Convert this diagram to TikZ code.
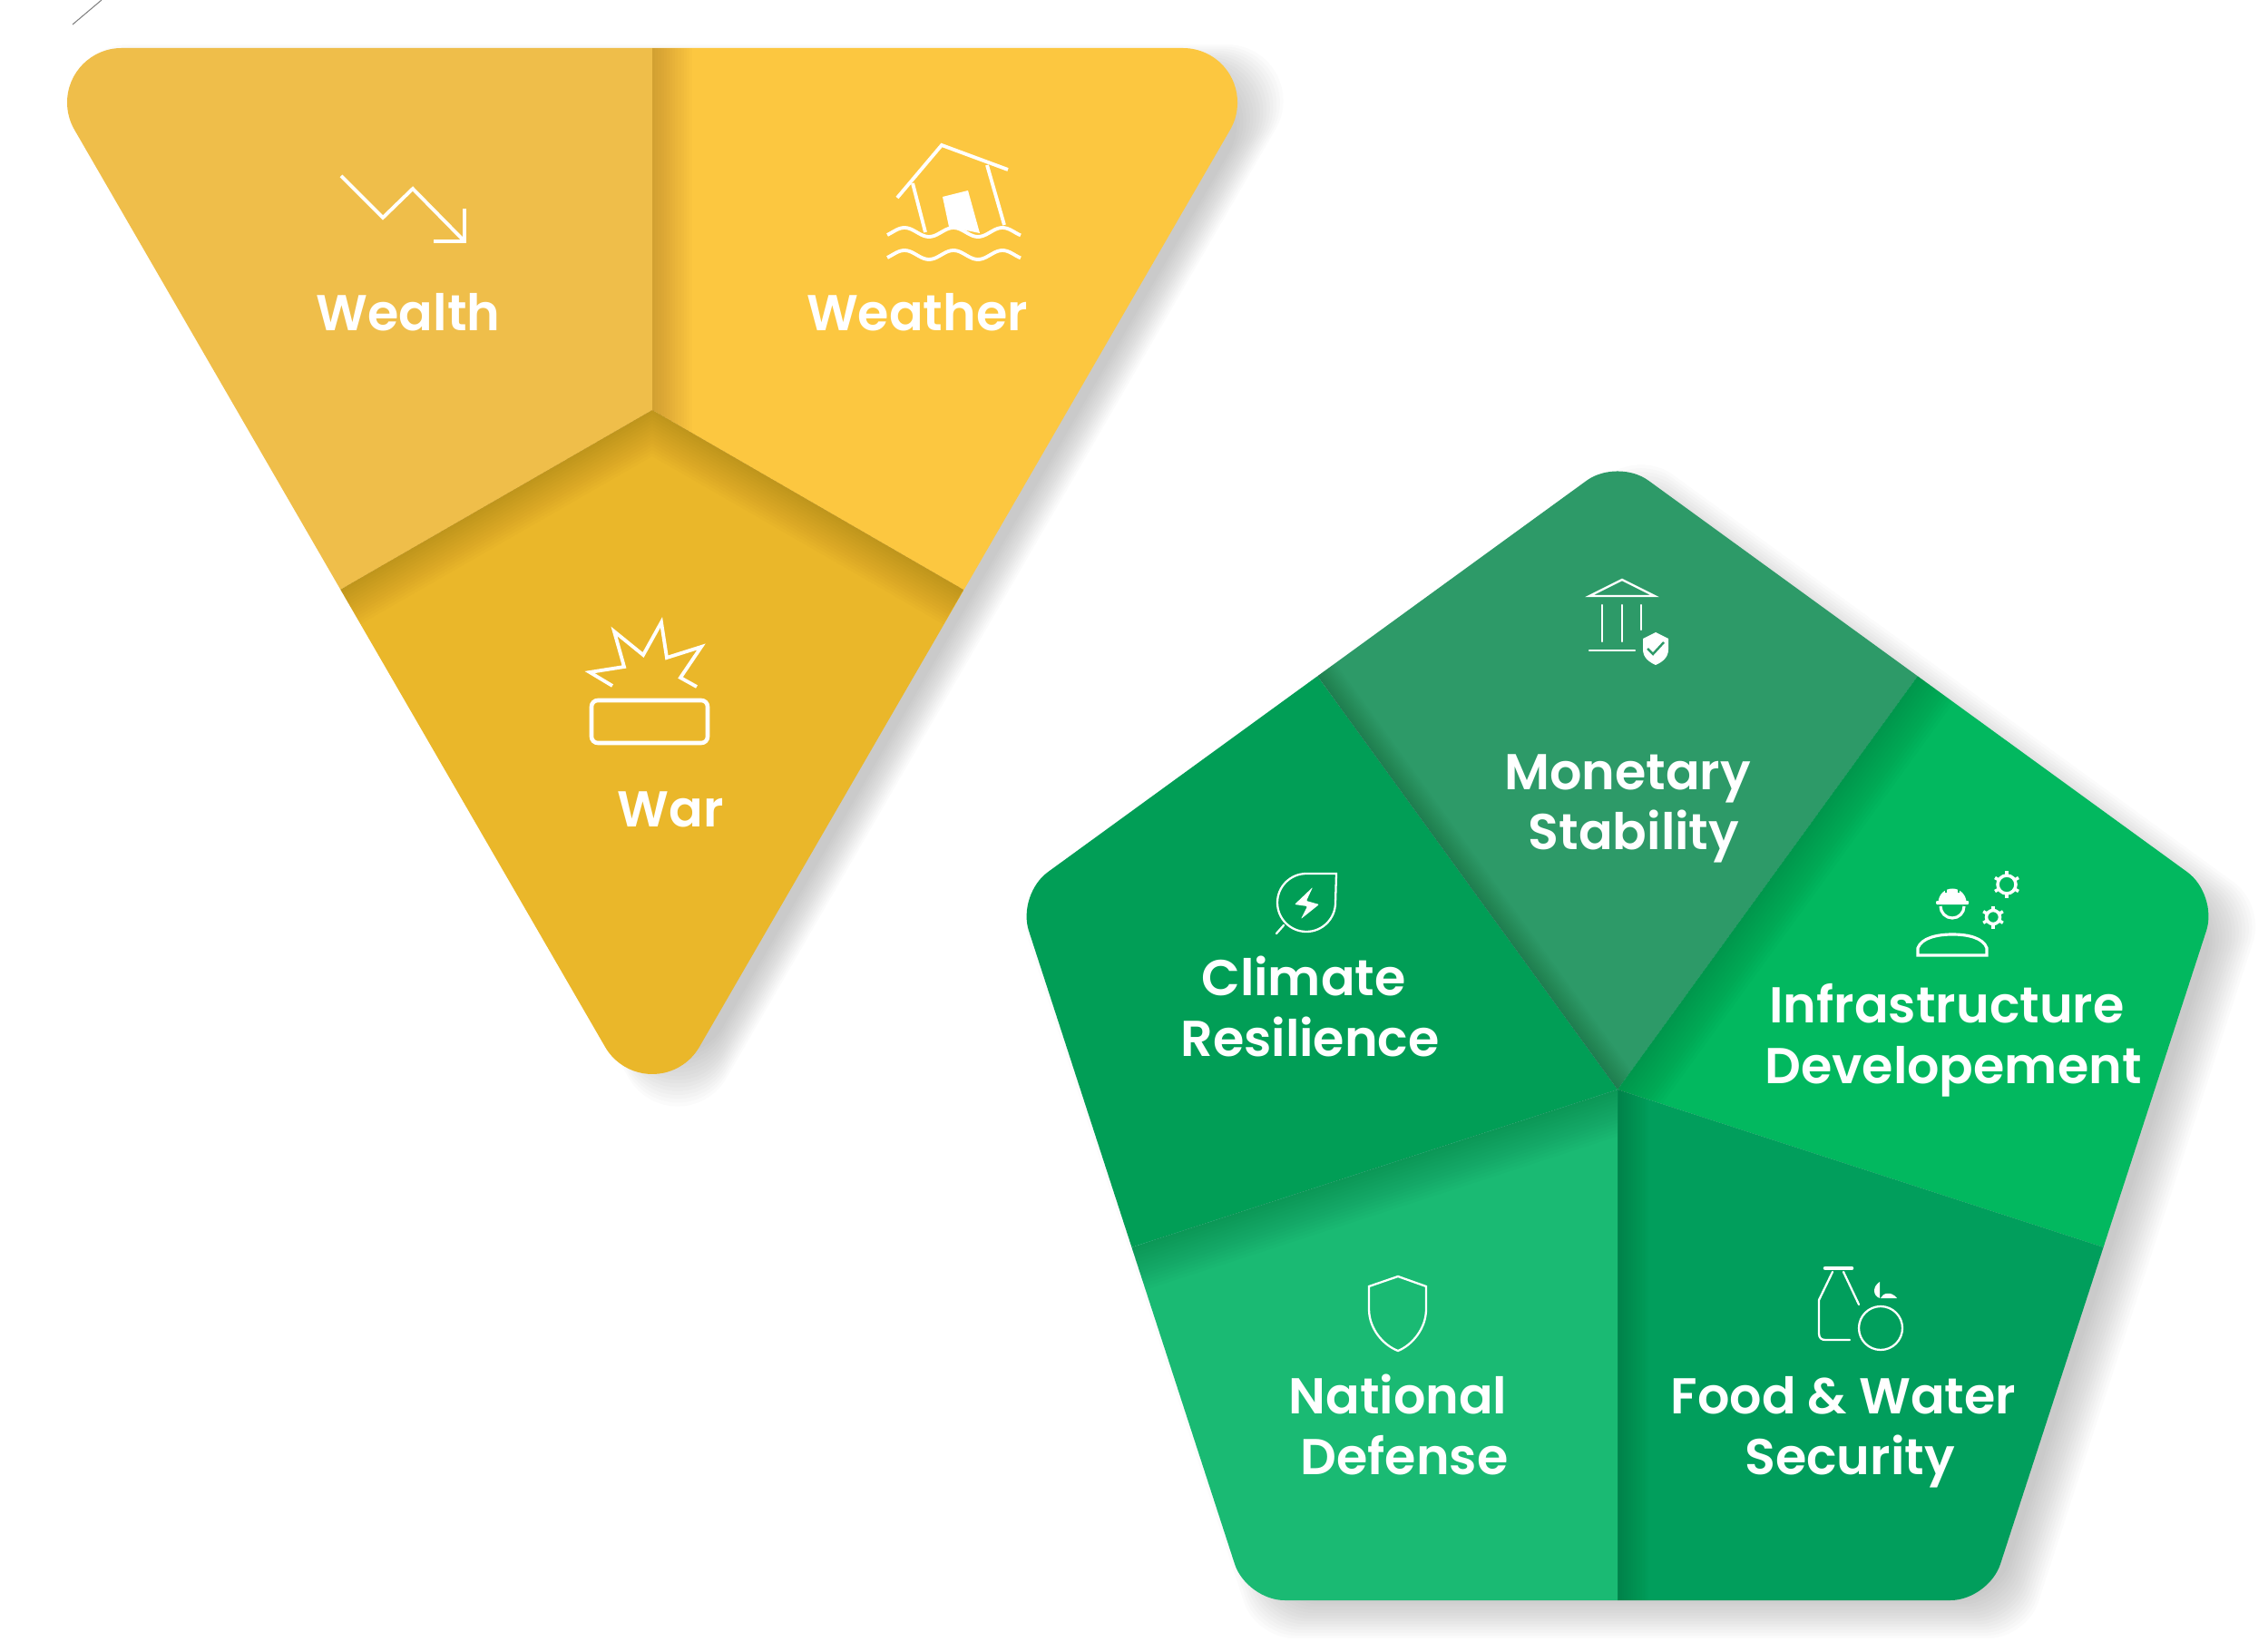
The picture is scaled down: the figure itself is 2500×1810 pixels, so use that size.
\documentclass[tikz,border=0pt]{standalone}
\usepackage{xcolor}
\usepackage{fontspec}
\usepackage{tikz}
\setmainfont{Poppins}[BoldFont=Poppins SemiBold]
\definecolor{wealthyellow}{RGB}{239, 190, 74}
\definecolor{weatheryellow}{RGB}{252, 199, 64}
\definecolor{waryellow}{RGB}{234, 183, 42}
\definecolor{monetarygreen}{RGB}{45, 154, 104}
\definecolor{infragreen}{RGB}{2, 184, 95}
\definecolor{foodgreen}{RGB}{1, 158, 92}
\definecolor{nationalgreen}{RGB}{26, 186, 115}
\definecolor{climategreen}{RGB}{1, 158, 86}
\tikzset{
	label/.style={text=white, inner sep=0, anchor=base, align=center, font=\fontsize{15.8}{19}\selectfont\bfseries},
	icon/.style={draw=white, line width=1.1pt, line join=miter},
	thinicon/.style={draw=white, line width=0.65pt, line cap=round}
}
\newcommand{\lastgap}{\hspace*{4pt}}
\newcommand{\triangleoutline}{(1304,53) -- (134,53) arc[start angle=270, end angle=150, radius=60] -- (667,1154) arc[start angle=150, end angle=30, radius=60] -- (1356,143) arc[start angle=30, end angle=-90, radius=60] -- cycle}
\newcommand{\pentagonoutline}{(1783,1764) -- (1374,1764) -- (1121,986) -- (1783,505) -- (2445,986) -- (2192,1764) -- cycle}
\newcommand{\foldshade}[3]{
	\begin{scope}
		\clip #1;
		\foreach \i in {1,...,14} {
			\draw[black, opacity=0.013, line width=\i*#3*0.04pt] #2;
		}
	\end{scope}
}
\begin{document}
\begin{tikzpicture}[x=0.01cm, y=-0.01cm]
	\useasboundingbox (0,0) rectangle (2500,1810);

	% TRAIT ISOLE
	\draw[gray, line width=0.3pt] (112,0) -- (80,27);

	% OMBRES
	\foreach \k [evaluate=\k as \s using 0.955+\k*0.0057] in {0,...,14} {
		\fill[black, opacity=0.016, shift={(28,10)}, scale around={\s:(719,452)}] \triangleoutline;
	}
	\foreach \k [evaluate=\k as \s using 0.961+\k*0.00557] in {0,...,14} {
		\fill[black, opacity=0.016, shift={(26,20)}, scale around={\s:(1783,1201)}, rounded corners=0.42cm] \pentagonoutline;
	}

	% TRIANGLE
	\begin{scope}
		\clip \triangleoutline;
		\fill[wealthyellow] (719,0) -- (0,0) -- (0,650) -- (375,650) -- (719,452) -- cycle;
		\fill[weatheryellow] (719,0) -- (1500,0) -- (1500,650) -- (1062,650) -- (719,452) -- cycle;
		\foldshade{(719,0) -- (1500,0) -- (1500,650) -- (1062,650) -- (719,452) -- cycle}{(719,53) -- (719,540)}{45}
		\fill[waryellow] (375,650) -- (719,452) -- (1062,650) -- (1062,1300) -- (375,1300) -- cycle;
		\foldshade{(375,650) -- (719,452) -- (1062,650) -- (1062,1300) -- (375,1300) -- cycle}{(375,650) -- (719,452) -- (1062,650)}{45}
	\end{scope}

	% PENTAGONE
	\begin{scope}
		\clip[rounded corners=0.42cm] \pentagonoutline;
		\fill[climategreen] (1783,1201) -- (1247,1375) -- (1000,1375) -- (1000,745) -- (1452,745) -- cycle;
		\fill[monetarygreen] (1783,1201) -- (1452,745) -- (1452,400) -- (2114,400) -- (2114,745) -- cycle;
		\foldshade{(1783,1201) -- (1452,745) -- (1452,400) -- (2114,400) -- (2114,745) -- cycle}{(1452,745) -- (1783,1201)}{25}
		\fill[infragreen] (1783,1201) -- (2114,745) -- (2600,745) -- (2600,1375) -- (2319,1375) -- cycle;
		\foldshade{(1783,1201) -- (2114,745) -- (2600,745) -- (2600,1375) -- (2319,1375) -- cycle}{(2114,745) -- (1740,1260)}{50}
		\fill[foodgreen] (1783,1201) -- (2319,1375) -- (2319,1900) -- (1783,1900) -- cycle;
		\foldshade{(1783,1201) -- (2319,1375) -- (2319,1900) -- (1783,1900) -- cycle}{(1783,1100) -- (1783,1764)}{35}
		\fill[nationalgreen] (1783,1201) -- (1783,1900) -- (1247,1900) -- (1247,1375) -- cycle;
		\foldshade{(1783,1201) -- (1783,1900) -- (1247,1900) -- (1247,1375) -- cycle}{(1247,1375) -- (1850,1179)}{50}
	\end{scope}

	% WEALTH
	\draw[icon] (376,194) -- (422,240) -- (455,208) -- (510,264);
	\draw[icon] (512,230) -- (512,266) -- (478,266);
	\node[label] (wealth) at (450,365) {Wealth};

	% WEATHER
	\draw[icon] (989,218) -- (1038,160) -- (1111,187);
	\draw[icon] (1006,202) -- (1020,256);
	\draw[icon] (1088,182) -- (1107,248);
	\fill[white] (1039,217) -- (1067,210) -- (1080,257) -- (1046,250) -- cycle;
	\draw[icon] plot[domain=978:1125, samples=60] (\x,{256-5*cos((\x-997)/54*360)});
	\draw[icon] plot[domain=978:1125, samples=60] (\x,{281-5*cos((\x-997)/54*360)});
	\node[label] (weather) at (1011,365) {Weather};

	% WAR
	\draw[icon] (675,756) -- (650,741) -- (688,735) -- (677,696) -- (709,722) -- (729,686) -- (735,725) -- (773,713) -- (750,747) -- (768,757);
	\draw[icon, line width=1.3pt, rounded corners=0.07cm] (652,772) rectangle (780,819);
	\node[label] (war) at (739,912) {War};

	% MONETARY
	\draw[thinicon, line cap=butt] (1752,657) -- (1788,639) -- (1824,657) -- cycle;
	\draw[thinicon] (1766,667) -- (1766,707);
	\draw[thinicon] (1788,667) -- (1788,707);
	\draw[thinicon] (1809,667) -- (1809,694);
	\draw[thinicon] (1752,717) -- (1802,717);
	\fill[white] (1811,704) -- (1825,697) -- (1839,704) -- (1839,716) .. controls (1839,725) and (1832,730) .. (1825,733) .. controls (1818,730) and (1811,725) .. (1811,716) -- cycle;
	\draw[monetarygreen, line width=0.7pt] (1816,715) -- (1822,721) -- (1834,708);
	\node[label] (monetary) at (1801,937) {Monetary\lastgap\\Stability};

	% CLIMATE
	\draw[thinicon] (1473,963) -- (1440,963) arc[start angle=270, end angle=0, radius=32] -- cycle;
	\draw[thinicon] (1415,1020) -- (1407,1029);
	\fill[white, rounded corners=0.01cm] (1447,978) -- (1427,997) -- (1441,999) -- (1434,1013) -- (1454,997) -- (1440,993) -- cycle;
	\node[label] (climate) at (1444,1164) {Climate\lastgap\\Resilience};

	% INFRASTRUCTURE
	\fill[white, rounded corners=0.01cm] (2134,993) rectangle (2170,997);
	\fill[white] (2136.5,995) arc[start angle=180, end angle=360, radius=15.5];
	\draw[infragreen, line width=0.5pt] (2145,976) -- (2145,984);
	\draw[infragreen, line width=0.5pt] (2159,976) -- (2159,984);
	\draw[icon, line width=0.9pt] (2139,999) arc[start angle=180, end angle=0, radius=13];
	\draw[icon, line width=0.9pt] (2114,1053) -- (2114,1045) .. controls (2118,1034) and (2135,1030) .. (2152,1030) .. controls (2170,1030) and (2186,1034) .. (2190,1045) -- (2190,1053) -- cycle;
	\draw[icon, line width=1pt] (2212,975) circle (10);
	\draw[icon, line width=1pt] (2197,1011) circle (7.5);
	\foreach \a in {30,90,...,330} {
		\draw[icon, line width=1pt] (2212,975) ++(\a:10) -- ++(\a:5);
		\draw[icon, line width=1pt] (2197,1011) ++(\a:7.5) -- ++(\a:5);
	}
	\node[label] (infrastructure) at (2153,1194) {Infrastructure\lastgap\\Developement};

	% NATIONAL
	\draw[thinicon, line cap=butt] (1541,1407) -- (1572,1418) -- (1572,1443) .. controls (1572,1465) and (1556,1483) .. (1541,1489) .. controls (1525,1483) and (1509,1465) .. (1509,1443) -- (1509,1418) -- cycle;
	\node[label] (national) at (1548,1625) {National\lastgap\\Defense};

	% FOOD
	\draw[icon, line width=1.3pt, line cap=round] (2012,1398) -- (2041,1398);
	\draw[thinicon] (2020,1402) -- (2005,1433) -- (2005,1470) .. controls (2005,1475) and (2008,1477) .. (2012,1477) -- (2039,1477);
	\draw[thinicon] (2032,1402) -- (2049,1438);
	\draw[thinicon] (2073,1464) circle (24);
	\fill[white] (2072,1413) .. controls (2064,1418) and (2064,1428) .. (2072,1431) -- cycle;
	\fill[white] (2073,1431) .. controls (2075,1425) and (2085,1423) .. (2091,1431) -- cycle;
	\node[label] (food) at (2039,1625) {Food \& Water\lastgap\\Security};
\end{tikzpicture}
\end{document}
